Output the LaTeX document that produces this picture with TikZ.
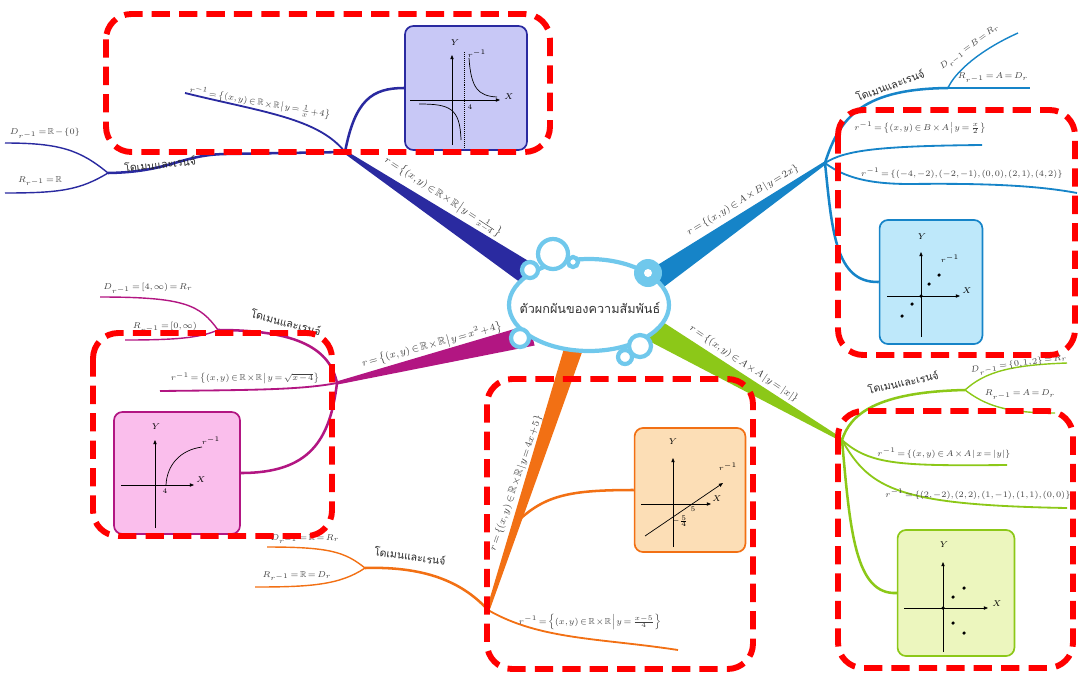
\documentclass[tikz,border=0pt]{standalone}
\usepackage{amsmath,amssymb}
\usepackage{fontspec}
\newfontfamily\thaifont[Script=Thai]{Loma}
\usepackage{tikz}
\usetikzlibrary{arrows.meta,calc,positioning}
\definecolor{navy}{RGB}{42,42,160}
\definecolor{sky}{RGB}{22,132,200}
\definecolor{plum}{RGB}{178,22,130}
\definecolor{tang}{RGB}{242,112,20}
\definecolor{lime}{RGB}{140,200,24}
\definecolor{cloud}{RGB}{112,200,236}
\definecolor{navyfill}{RGB}{200,200,246}
\definecolor{skyfill}{RGB}{190,232,250}
\definecolor{plumfill}{RGB}{250,190,236}
\definecolor{tangfill}{RGB}{252,222,182}
\definecolor{limefill}{RGB}{236,246,190}
% tapered main branch: colour, from, to, half width at from, half width at to
\newcommand{\ribbon}[5]{%
  \fill[#1] ($(#2)!#4!90:(#3)$) -- ($(#3)!#5!-90:(#2)$)
    -- ($(#3)!#5!90:(#2)$) -- ($(#2)!#4!-90:(#3)$) -- cycle;}
\newcommand{\rinv}{r^{-1}}
% tighter math spacing for the formulas on the branches
\newcommand{\tightmath}{\thinmuskip=1.5mu\medmuskip=1.5mu\thickmuskip=2.5mu}

\begin{document}
\begin{tikzpicture}[x=0.025cm, y=-0.025cm,
  fml/.style={font=\fontsize{6.2}{7}\selectfont\tightmath, text=black!75, inner sep=1pt},
  big/.style={font=\fontsize{7.5}{8.5}\selectfont\tightmath, text=black!75, inner sep=1pt},
  th/.style={font=\thaifont\fontsize{7.5}{9}\selectfont, text=black!85, inner sep=1pt},
  twig/.style={line width=1.8pt},
  leaf/.style={line width=1pt},
  gbox/.style={draw, line width=1.2pt, rounded corners=6pt},
  ax/.style={line width=0.5pt, -{Triangle[length=3pt,width=2.4pt]}},
  lab/.style={font=\fontsize{6}{7}\selectfont, inner sep=0.5pt},
  wee/.style={font=\fontsize{4}{5}\selectfont, inner sep=0.3pt},
  pnt/.style={circle, fill, inner sep=0pt, minimum size=2.5pt},
  hl/.style={draw=red, line width=4.2pt, dash pattern=on 13pt off 6.5pt, rounded corners=18pt},
]
\useasboundingbox (0,0) rectangle (1078,679);

% ---- navy: r = 1/(x-4)
\coordinate (n0) at (540,282);
\coordinate (n1) at (345,152);
\coordinate (n2) at (108,173);
\coordinate (nbend) at (225,154);
\coordinate (nd) at (5,143);
\coordinate (nr) at (5,193);
\coordinate (ninv) at (185,93);
\node[gbox, draw=navy, fill=navyfill, minimum width=3.05cm, minimum height=3.1cm] (gn) at (466,88) {};
\ribbon{navy}{n0}{n1}{0.3cm}{0.04cm}
\draw[twig, navy] (n1) .. controls (355,100) and (372,88) .. (gn.west);
\draw[line width=1.3pt, navy] (n1) .. controls (318,118) and (262,112) .. (ninv);
\draw[twig, navy] (n1) -- (nbend) .. controls (180,155) and (170,172) .. (n2);
\draw[leaf, navy] (n2) .. controls (80,150) and (60,143) .. (nd);
\draw[leaf, navy] (n2) .. controls (80,190) and (60,193) .. (nr);
\node[big, rotate=-33] (rn) at (443,197) {$r=\left\{(x,y)\in\mathbb{R}\times\mathbb{R}\,\middle|\,y=\frac{1}{x-4}\right\}$};
\node[fml, rotate=-10] (ni) at (260,103) {$\rinv=\left\{(x,y)\in\mathbb{R}\times\mathbb{R}\,\middle|\,y=\frac{1}{x}+4\right\}$};
\node[th, rotate=6] (nt) at (160,164) {โดเมนและเรนจ์};
\node[fml] (ndl) at (45,133) {$D_{\rinv}=\mathbb{R}-\{0\}$};
\node[fml] (nrl) at (40,181) {$R_{\rinv}=\mathbb{R}$};
% graph
\draw[ax] (452,145) -- (452,55);
\draw[ax] (410,100) -- (500,100);
\draw[densely dotted, line width=0.4pt] (464,52) -- (464,148);
\draw[line width=0.5pt] (469,58) .. controls (471,88) and (478,96) .. (497,97);
\draw[line width=0.5pt] (419,104) .. controls (450,104) and (460,108) .. (461,140);
\node[lab] (gny) at (455,43) {$Y$};
\node[lab] (gnx) at (509,97) {$X$};
\node[wee] (gn4) at (470,107) {$4$};
\node[wee] (gnr) at (477,54) {$\rinv$};

% ---- sky: r = 2x on A x B
\coordinate (s0) at (640,290);
\coordinate (s1) at (825,163);
\coordinate (s2) at (948,88);
\coordinate (sd) at (1018,33);
\coordinate (sr) at (1030,88);
\coordinate (sa) at (982,145);
\coordinate (sb) at (1077,193);
\node[gbox, draw=sky, fill=skyfill, minimum width=2.57cm, minimum height=3.1cm] (gs) at (931,282) {};
\ribbon{sky}{s0}{s1}{0.3cm}{0.04cm}
\draw[twig, sky] (s1) .. controls (840,115) and (865,89) .. (s2);
\draw[leaf, sky] (s2) .. controls (955,72) and (980,50) .. (sd);
\draw[leaf, sky] (s2) -- (sr);
\draw[line width=1.3pt, sky] (s1) .. controls (845,150) and (880,146) .. (sa);
\draw[line width=1.3pt, sky] (s1) .. controls (845,178) and (870,184) .. (910,184)
  .. controls (990,183) and (1040,186) .. (sb);
\draw[twig, sky] (s1) .. controls (832,230) and (835,283) .. (gs.west);
\node[big, rotate=31] (rs) at (743,200) {$r=\left\{(x,y)\in A\times B\,\middle|\,y=2x\right\}$};
\node[th, rotate=20] (st) at (890,85) {โดเมนและเรนจ์};
\node[fml, rotate=36] (sdl) at (970,48) {$D_{\rinv}=B=R_r$};
\node[fml] (srl) at (993,78) {$R_{\rinv}=A=D_r$};
\node[fml] (sal) at (920,128) {$\rinv=\left\{(x,y)\in B\times A\,\middle|\,y=\frac{x}{2}\right\}$};
\node[fml] (sbl) at (962,173) {$\rinv=\{(-4,-2),(-2,-1),(0,0),(2,1),(4,2)\}$};
% graph
\draw[ax] (921,337) -- (921,252);
\draw[ax] (887,296) -- (960,296);
\foreach \px/\py [count=\i] in {939/275, 929/284, 921/296, 912/304, 902/316}
  \node[pnt] (sp\i) at (\px,\py) {};
\node[lab] (gsy) at (922,237) {$Y$};
\node[lab] (gsx) at (967,291) {$X$};
\node[wee] (gsr) at (950,259) {$\rinv$};

% ---- plum: r = x^2+4
\coordinate (m0) at (532,335);
\coordinate (m1) at (337,383);
\coordinate (m2) at (218,330);
\coordinate (md) at (100,297);
\coordinate (mr) at (125,340);
\coordinate (ma) at (160,391);
\node[gbox, draw=plum, fill=plumfill, minimum width=3.15cm, minimum height=3.05cm] (gm) at (177,473) {};
\ribbon{plum}{m0}{m1}{0.27cm}{0.04cm}
\draw[twig, plum] (m1) .. controls (330,350) and (300,330) .. (m2);
\draw[leaf, plum] (m2) .. controls (200,305) and (185,297) .. (md);
\draw[leaf, plum] (m2) .. controls (200,338) and (175,340) .. (mr);
\draw[line width=1.3pt, plum] (m1) .. controls (300,390) and (250,390) .. (ma);
\draw[twig, plum] (m1) .. controls (330,440) and (310,473) .. (gm.east);
\node[big, rotate=15] (rm) at (432,345) {$r=\left\{(x,y)\in\mathbb{R}\times\mathbb{R}\,\middle|\,y=x^2+4\right\}$};
\node[th, rotate=-15] (mt) at (286,322) {โดเมนและเรนจ์};
\node[fml] (mdl) at (148,288) {$D_{\rinv}=[4,\infty)=R_r$};
\node[fml] (mrl) at (165,327) {$R_{\rinv}=[0,\infty)$};
\node[fml] (mal) at (245,378) {$\rinv=\left\{(x,y)\in\mathbb{R}\times\mathbb{R}\,\middle|\,y=\sqrt{x-4}\right\}$};
% graph
\draw[ax] (155,528) -- (155,440);
\draw[ax] (121,485) -- (194,485);
\draw[line width=0.5pt] (166,485) .. controls (167,465) and (180,450) .. (202,447);
\node[lab] (gmy) at (156,427) {$Y$};
\node[lab] (gmx) at (201,480) {$X$};
\node[wee] (gmr) at (211,441) {$\rinv$};
\node[wee] (gm4) at (165,491) {$4$};

% ---- tang: r = 4x+5
\coordinate (o0) at (578,335);
\coordinate (o1) at (488,610);
\coordinate (ok) at ($(o1)!0.32!(o0)$);
\coordinate (o2) at (365,568);
\coordinate (od) at (267,547);
\coordinate (or) at (255,587);
\coordinate (oa) at (678,650);
\node[gbox, draw=tang, fill=tangfill, minimum width=2.77cm, minimum height=3.1cm] (go) at (690,490) {};
\ribbon{tang}{o0}{o1}{0.24cm}{0.04cm}
\draw[twig, tang] (ok) .. controls (545,495) and (570,490) .. (go.west);
\draw[twig, tang] (o1) .. controls (465,585) and (430,566) .. (o2);
\draw[leaf, tang] (o2) .. controls (345,552) and (330,547) .. (od);
\draw[leaf, tang] (o2) .. controls (340,585) and (310,587) .. (or);
\draw[line width=1.3pt, tang] (o1) .. controls (540,640) and (600,638) .. (oa);
\node[big, rotate=71] (ro) at (516,483) {$r=\left\{(x,y)\in\mathbb{R}\times\mathbb{R}\,\middle|\,y=4x+5\right\}$};
\node[th, rotate=-8] (ot) at (410,556) {โดเมนและเรนจ์};
\node[fml] (odl) at (305,539) {$D_{\rinv}=\mathbb{R}=R_r$};
\node[fml] (orl) at (297,576) {$R_{\rinv}=\mathbb{R}=D_r$};
\node[fml] (oal) at (590,622) {$\rinv=\left\{(x,y)\in\mathbb{R}\times\mathbb{R}\,\middle|\,y=\frac{x-5}{4}\right\}$};
% graph
\draw[ax] (673,547) -- (673,458);
\draw[ax] (641,504) -- (711,504);
\draw[ax] (645,536) -- (723,483);
\node[lab] (goy) at (673,442) {$Y$};
\node[lab] (gox) at (717,499) {$X$};
\node[wee] (gor) at (728,467) {$\rinv$};
\node[wee] (go5) at (693,509) {$5$};
\node[wee] (gof) at (680,521) {$-\frac{5}{4}$};

% ---- lime: r = |x| on A x A
\coordinate (g0) at (650,328);
\coordinate (g1) at (842,440);
\coordinate (g2) at (965,390);
\coordinate (gd) at (1067,363);
\coordinate (gr) at (1055,413);
\coordinate (ga) at (1007,465);
\coordinate (gb) at (1067,508);
\node[gbox, draw=lime, fill=limefill, minimum width=2.92cm, minimum height=3.15cm] (gg) at (956,593) {};
\ribbon{lime}{g0}{g1}{0.3cm}{0.04cm}
\draw[twig, lime] (g1) .. controls (850,415) and (875,392) .. (g2);
\draw[leaf, lime] (g2) .. controls (985,372) and (1010,365) .. (gd);
\draw[leaf, lime] (g2) .. controls (985,405) and (1005,413) .. (gr);
\draw[line width=1.3pt, lime] (g1) .. controls (870,465) and (900,466) .. (ga);
\draw[line width=1.3pt, lime] (g1) .. controls (870,490) and (900,505) .. (gb);
\draw[twig, lime] (g1) .. controls (850,530) and (855,595) .. (gg.west);
\node[big, rotate=-34] (rg) at (744,364) {$r=\left\{(x,y)\in A\times A\,\middle|\,y=|x|\right\}$};
\node[th, rotate=12] (gt) at (903,382) {โดเมนและเรนจ์};
\node[fml, rotate=8] (gdl) at (1019,365) {$D_{\rinv}=\{0,1,2\}=R_r$};
\node[fml] (grl) at (1020,395) {$R_{\rinv}=A=D_r$};
\node[fml] (gal) at (944,453) {$\rinv=\left\{(x,y)\in A\times A\,\middle|\,x=|y|\right\}$};
\node[fml] (gbl) at (978,494) {$\rinv=\{(2,-2),(2,2),(1,-1),(1,1),(0,0)\}$};
% graph
\draw[ax] (943,652) -- (943,562);
\draw[ax] (904,608) -- (988,608);
\foreach \px/\py [count=\i] in {964/588, 953/597, 943/608, 953/623, 964/633}
  \node[pnt] (gp\i) at (\px,\py) {};
\node[lab] (ggy) at (944,545) {$Y$};
\node[lab] (ggx) at (997,604) {$X$};

% ---- cloud in the middle
\filldraw[fill=white, draw=cloud, line width=3pt] (589,305) ellipse [x radius=80, y radius=46];
\foreach \cx/\cy/\r in {553/254/15, 530/270/8, 573/262/5, 520/338/9, 640/346/11, 625/357/7}
  \filldraw[fill=white, draw=cloud, line width=3pt] (\cx,\cy) circle (\r);
\fill[cloud] (648,273) circle (14);
\fill[white] (648,273) circle (4);
\node[font=\thaifont\fontsize{9}{11}\selectfont, text=black!80] (hub) at (590,308) {ตัวผกผันของความสัมพันธ์};

% ---- dashed highlights
\draw[hl] (106,14) rectangle (550,152);
\draw[hl] (838,110) rectangle (1075,355);
\draw[hl] (93,333) rectangle (332,536);
\draw[hl] (487,379) rectangle (753,669);
\draw[hl] (838,411) rectangle (1073,668);
\end{tikzpicture}
\end{document}
